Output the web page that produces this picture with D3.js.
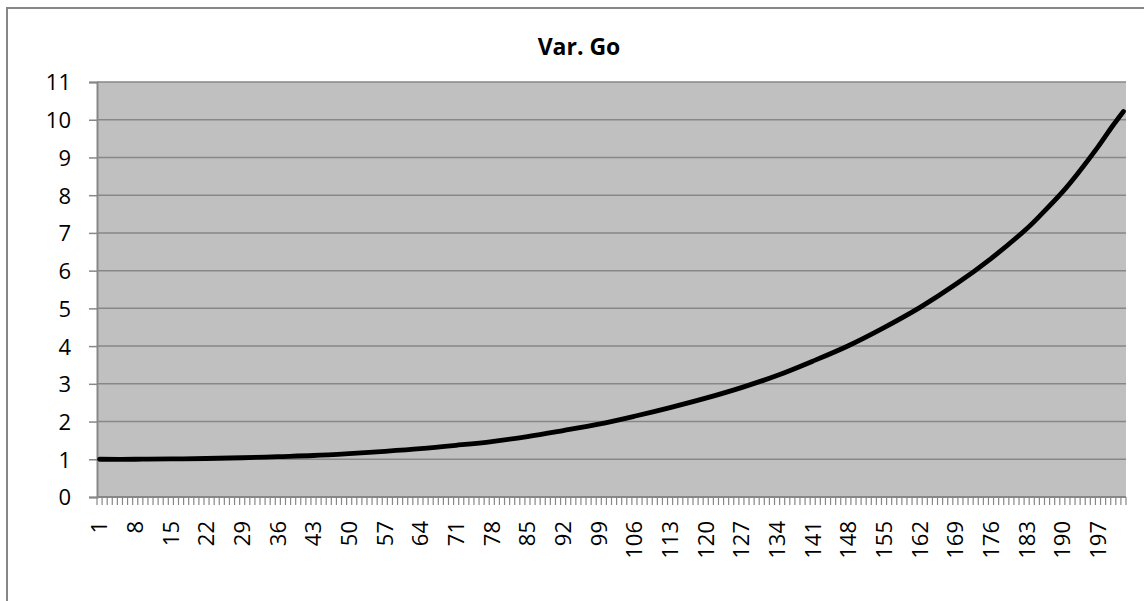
<!DOCTYPE html>
<html>
<head>
<meta charset="utf-8">
<script src="https://cdn.jsdelivr.net/npm/d3@7"></script>
<style>
  html, body { margin: 0; padding: 0; background: #fff; overflow: hidden; }
  svg { display: block; font-family: "Open Sans", "Liberation Sans", sans-serif; }
</style>
</head>
<body>
<svg id="chart" width="1144" height="601"></svg>
<script>
// ---- data ----
const title = "Var. Go";
const categoryCount = 202;                       // categories 1..202
const categories = d3.range(1, categoryCount + 1);
const labelEvery = 7;                             // tick labels 1, 8, 15, ... 197
const yTicks = [0, 1, 2, 3, 4, 5, 6, 7, 8, 9, 10, 11];
// sampled points of the curve (category, value)
const sampleCats = [1, 8, 15, 22, 29, 36, 43, 50, 57, 64, 71, 78, 85, 92, 99, 106, 113, 120, 127, 134, 141, 148, 155, 162, 169, 176, 183, 186, 190, 193, 197, 200, 202];
const sampleVals = [1.00, 1.00, 1.01, 1.02, 1.04, 1.07, 1.10, 1.15, 1.21, 1.28, 1.37, 1.47, 1.60, 1.76, 1.93, 2.14, 2.37, 2.62, 2.90, 3.22, 3.60, 4.01, 4.49, 5.02, 5.63, 6.32, 7.11, 7.51, 8.08, 8.57, 9.28, 9.86, 10.22];

// ---- layout ----
const svg = d3.select("#chart");
const plot = { left: 97, top: 82, right: 1126, bottom: 497 };

// chart border (extends beyond the picture to the right/bottom)
svg.append("rect")
  .attr("x", 7).attr("y", 8).attr("width", 1144).attr("height", 640)
  .attr("fill", "#fff").attr("stroke", "#878787").attr("stroke-width", 2);

const x = d3.scaleBand().domain(categories).range([plot.left, plot.right]).padding(0);
const y = d3.scaleLinear().domain([0, 11]).range([plot.bottom, plot.top]);

// plot background
svg.append("rect")
  .attr("x", plot.left).attr("y", plot.top)
  .attr("width", plot.right - plot.left).attr("height", plot.bottom - plot.top)
  .attr("fill", "#c0c0c0");

// gridlines
svg.append("g").selectAll("line").data(yTicks.filter(d => d > 0)).join("line")
  .attr("x1", plot.left).attr("x2", plot.right)
  .attr("y1", d => y(d)).attr("y2", d => y(d))
  .attr("stroke", "#878787").attr("stroke-width", 1.5);

// y axis
const yAxis = d3.axisLeft(y).tickValues(yTicks).tickSize(8).tickPadding(18).tickFormat(d3.format("d"));
const gy = svg.append("g").attr("transform", `translate(${plot.left},0)`).call(yAxis);
gy.select(".domain").attr("stroke", "#878787").attr("stroke-width", 2);
gy.selectAll(".tick line").attr("stroke", "#878787").attr("stroke-width", 1.5);
gy.selectAll(".tick text").attr("font-size", 22).attr("fill", "#000")
  .attr("font-family", "'Open Sans', sans-serif").attr("dy", "0.36em");

// x axis: tick marks at band boundaries
const boundaries = d3.range(0, categoryCount + 1);
const gx = svg.append("g");
gx.append("line")
  .attr("x1", plot.left).attr("x2", plot.right)
  .attr("y1", plot.bottom).attr("y2", plot.bottom)
  .attr("stroke", "#878787").attr("stroke-width", 2);
gx.selectAll("line.tk").data(boundaries).join("line").attr("class", "tk")
  .attr("x1", i => plot.left + i * x.step()).attr("x2", i => plot.left + i * x.step())
  .attr("y1", plot.bottom).attr("y2", plot.bottom + 8)
  .attr("stroke", "#878787").attr("stroke-width", 1.2);

const xLabels = categories.filter(c => (c - 1) % labelEvery === 0);
gx.selectAll("text").data(xLabels).join("text")
  .attr("transform", c => `translate(${x(c) + x.bandwidth() / 2},${plot.bottom + 24}) rotate(-90)`)
  .attr("text-anchor", "end").attr("dy", "0.36em")
  .attr("font-size", 22).attr("fill", "#000")
  .text(c => c);

// line
const pts = sampleCats.map((c, i) => [x(c) + x.bandwidth() / 2, y(sampleVals[i])]);
svg.append("path")
  .attr("d", d3.line().curve(d3.curveCatmullRom.alpha(0.5))(pts))
  .attr("fill", "none").attr("stroke", "#000").attr("stroke-width", 4.8)
  .attr("stroke-linecap", "round").attr("stroke-linejoin", "round");

// title
svg.append("text")
  .attr("x", 579).attr("y", 55)
  .attr("text-anchor", "middle").attr("font-weight", "bold").attr("font-size", 23)
  .attr("fill", "#000").text(title);
</script>
</body>
</html>
